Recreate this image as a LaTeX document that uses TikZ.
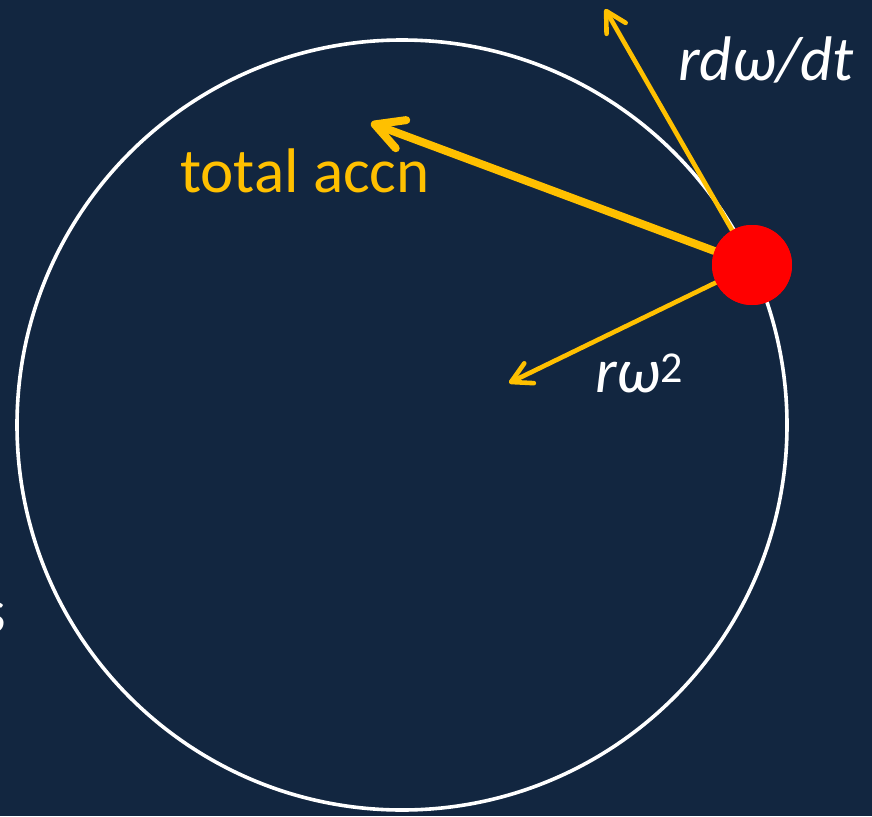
\documentclass[tikz,border=0pt]{standalone}
\usepackage{fontspec}
\setmainfont{Carlito}
\usetikzlibrary{arrows.meta,positioning}
\definecolor{slideNavy}{RGB}{18,38,64}
\definecolor{accGold}{RGB}{255,192,0}

\tikzset{
  vec/.style={accGold, line width=4.6pt, line cap=round,
    -{Straight Barb[length=20pt,width=22pt,line cap=round,round]}},
  vecbig/.style={accGold, line width=8pt, line cap=round,
    -{Straight Barb[length=28pt,width=30pt,line cap=round,round]}},
  lbl/.style={inner sep=0pt, font=\fontsize{63}{66}\selectfont},
}

\begin{document}
\begin{tikzpicture}[x=1pt, y=-1pt]
\fill[slideNavy] (0,0) rectangle (872,816);
\useasboundingbox (0,0) rectangle (872,816);
% orbit
\draw[white, line width=3.6pt] (402,425) circle (385pt);
\node[lbl, white, anchor=base east] (cutS) at (6,632) {s};
% tips of the three vectors
\coordinate (tangTip) at (605,9);
\coordinate (totTip) at (371,123);
\coordinate (radTip) at (509,383);
\node[circle, fill=red, minimum size=80pt, inner sep=0pt] (mass) at (752,265) {};
\draw[vec] (mass) -- (tangTip);
\draw[vecbig] (mass) -- (totTip);
\draw[vec] (mass) -- (radTip);
\node[circle, fill=red, minimum size=80pt, inner sep=0pt] at (mass) {};
% labels
\node[lbl, white, anchor=base west] (tangLbl) at (678,80) {\itshape rdω/dt};
\node[lbl, accGold, anchor=base west] (totLbl) at (180,192) {total accn};
\node[lbl, white, anchor=base west] (radLbl) at (595,392) {\itshape rω\textsuperscript{\upshape 2}};
\end{tikzpicture}
\end{document}
